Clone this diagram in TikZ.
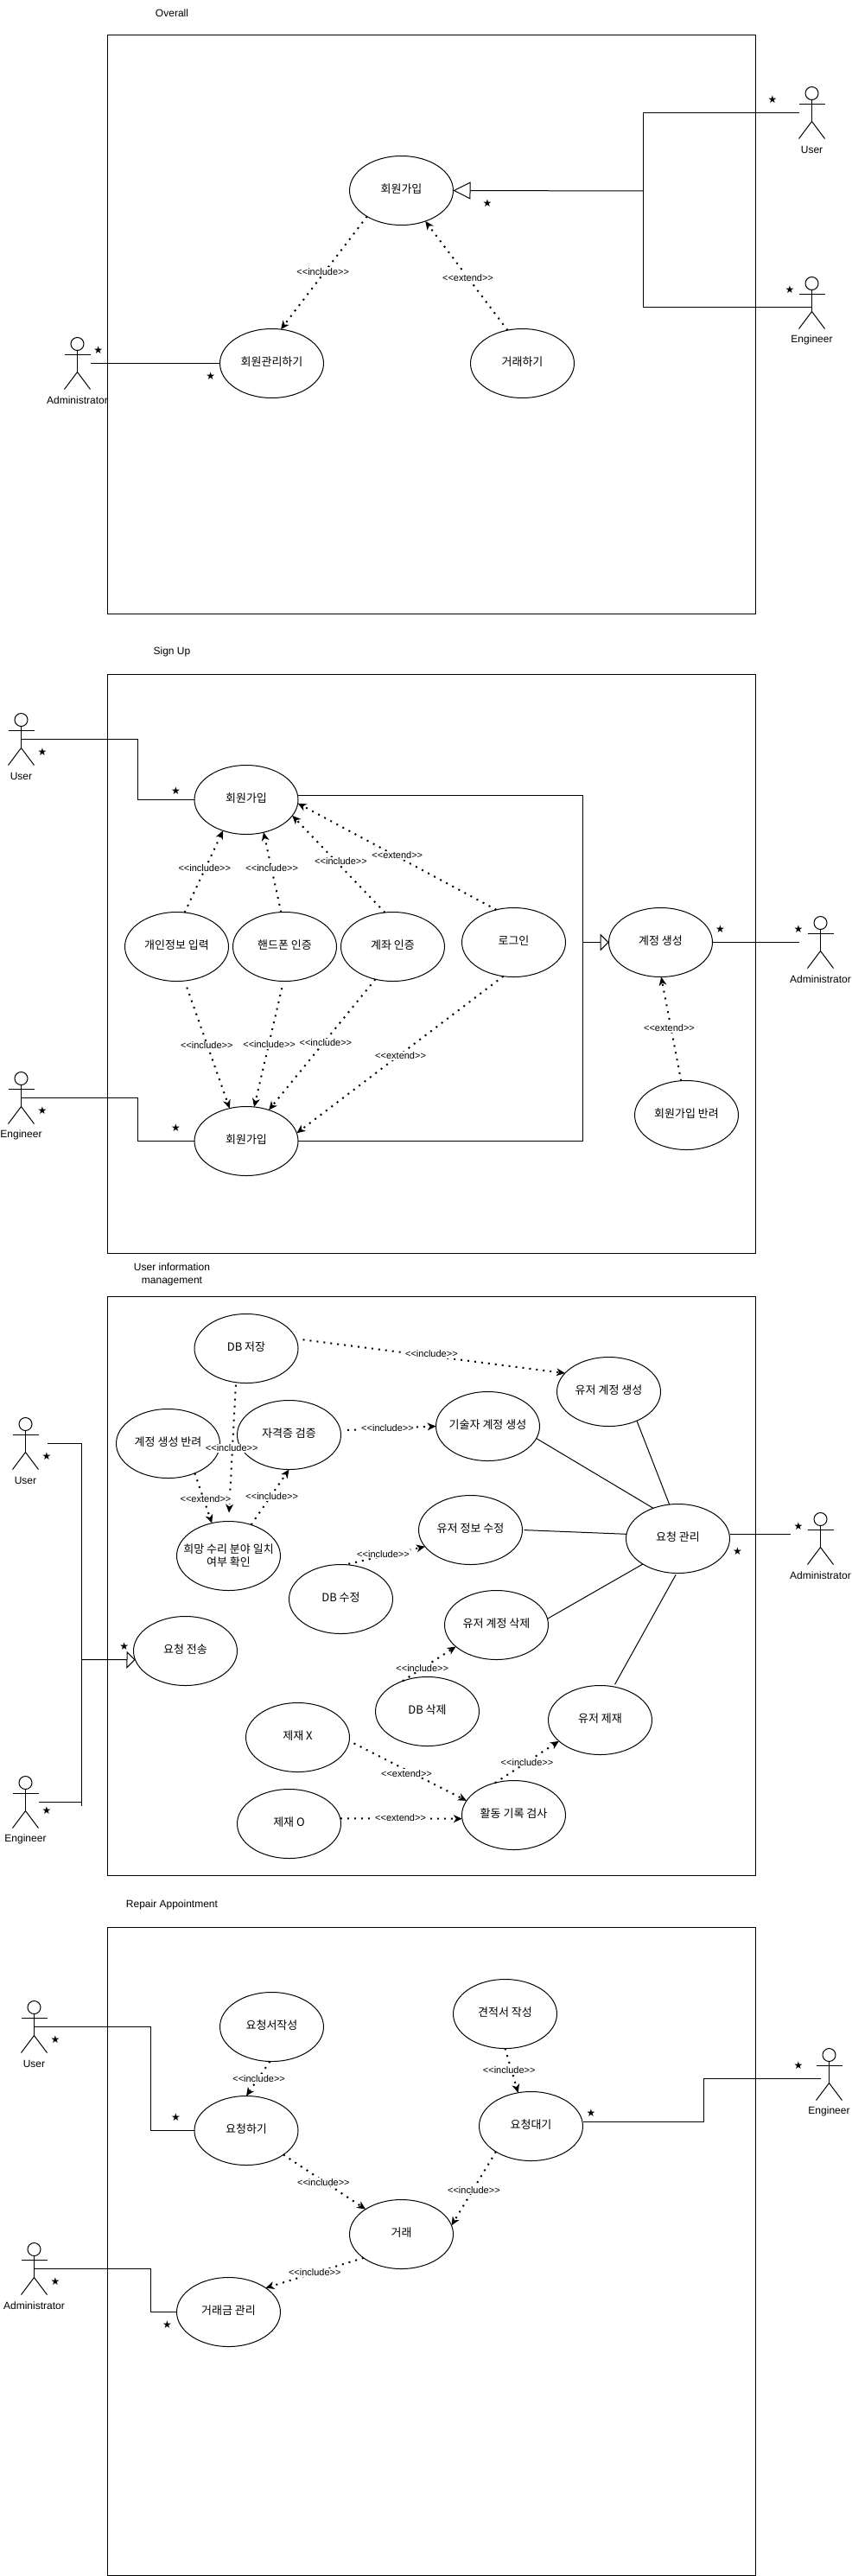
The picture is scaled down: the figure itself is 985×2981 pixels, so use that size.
\documentclass[tikz,border=0pt]{standalone}
\usepackage{fontspec}
\setmainfont[Ligatures=NoCommon]{Liberation Sans}
\newfontfamily\kr{Noto Sans CJK KR}
\newfontfamily\dv{DejaVu Sans}
\usetikzlibrary{shapes.geometric,arrows.meta}
\newcommand\incl{<{}<include>{}>}
\newcommand\extd{<{}<extend>{}>}
\tikzset{
  frame/.style={draw=black,line width=1pt,fill=none},
  usecase/.style={ellipse,draw=black,fill=white,line width=1pt,minimum width=120pt,minimum height=80pt,inner sep=-15pt,outer sep=0pt,text height=10pt,text depth=4pt,align=center,font=\kr\fontsize{13}{15}\selectfont},
  usecasetwo/.style={usecase,text height=,text depth=},
  link/.style={draw=black,line width=1pt},
  dep/.style={draw=black,line width=2pt,dash pattern=on 2pt off 6pt,-{Stealth[length=10pt,width=9pt,inset=3pt,line width=0pt]}},
  gen/.style={draw=black,line width=1pt,-{Triangle[open,length=20pt,width=20pt,fill=white]}},
  genshort/.style={draw=black,line width=1pt,-{Triangle[open,length=10pt,width=20pt,fill=white]}},
  lbl/.style={fill=white,inner sep=1pt,font=\fontsize{11}{13}\selectfont},
  title/.style={inner sep=0pt,align=center,font=\fontsize{12}{15}\selectfont},
  starmark/.style={inner sep=0pt,font=\dv\fontsize{12}{12}\selectfont},
  actorbox/.style={minimum width=30pt,minimum height=60pt,inner sep=0pt,outer sep=0pt},
  actorhead/.style={circle,draw=black,line width=1pt,minimum size=15pt,inner sep=0pt,outer sep=0pt},
  actorline/.style={draw=black,line width=1pt},
  actorlabel/.style={inner sep=0pt,font=\fontsize{12}{14}\selectfont},
}
\newcommand\actor[4]{%
  \node[actorbox] (#1) at (#2+15,#3+30) {};
  \node[actorhead] (#1-head) at (#2+15,#3+7.5) {};
  \draw[actorline] (#2+15,#3+15) -- (#2+15,#3+40);
  \draw[actorline] (#2,#3+20) -- (#2+30,#3+20);
  \draw[actorline] (#2,#3+60) -- (#2+15,#3+40) -- (#2+30,#3+60);
  \node[actorlabel] (#1-label) at (#2+15,#3+73) {#4};
}
\newcommand\stm[3]{\node[starmark] (#1) at (#2,#3) {★};}
\begin{document}
\begin{tikzpicture}[x=1pt,y=-1pt]
\useasboundingbox (0,0) rectangle (985,2981);
\fill[white] (0,0) rectangle (985,2981);

% ---------- Overall
\node[title] (t1) at (199,15) {Overall};
\draw[frame] (124.5,40.5) rectangle (874.5,710.5);
\node[usecase] (a1) at (464.5,220.5) {회원가입};
\node[usecase] (a2) at (314.5,420.5) {회원관리하기};
\node[usecase] (a3) at (604.5,420.5) {거래하기};
\actor{au}{924.5}{100.5}{User}
\actor{ae}{924.5}{320.5}{Engineer}
\actor{aa}{74.5}{390.5}{Administrator}
\coordinate (aj) at (744.5,221);
\coordinate (aec) at (939.5,355.5);
\draw[link] (aa.east) -- (a2.west);
\draw[link] (au.west) -| (aj);
\draw[link] (aec) -| (aj);
\draw[gen] (aj) -- (a1.east);
\draw[dep] (a1.217) -- (a2.75);
\draw[dep] (a3.114) -- (a1.-52.5);
\node[lbl] (al1) at (373.7,314.2) {\incl};
\node[lbl] (al2) at (541.5,321.2) {\extd};
\stm{as1}{894}{115.5}
\stm{as2}{914}{335}
\stm{as3}{564}{235.5}
\stm{as4}{113.7}{405.5}
\stm{as5}{243.7}{435.3}

% ---------- Sign Up
\node[title] (t2) at (199,754.5) {Sign Up};
\draw[frame] (124.5,780.5) rectangle (874.5,1450.5);
\node[usecase] (b1) at (285,925.5) {회원가입};
\node[usecase] (b2) at (285,1320.5) {회원가입};
\node[usecase] (b3) at (204.5,1095.5) {개인정보 입력};
\node[usecase] (b4) at (329.5,1095.5) {핸드폰 인증};
\node[usecase] (b5) at (454.5,1095.5) {계좌 인증};
\node[usecase] (b6) at (594.5,1090.5) {로그인};
\node[usecase] (b7) at (764.5,1090.5) {계정 생성};
\node[usecase] (b8) at (794.5,1290.5) {회원가입 반려};
\actor{bu}{9.5}{825.5}{User}
\actor{be}{9.5}{1240.5}{Engineer}
\actor{ba}{934.5}{1060.5}{Administrator}
\coordinate (buj) at (159.5,925.5);
\coordinate (bej) at (159.5,1320.5);
\coordinate (bt) at (674.5,920.5);
\coordinate (bb) at (674.5,1320.5);
\coordinate (bm) at (674.5,1090.5);
\coordinate (bac) at (924.5,1090.5);
\draw[link] (bu.center) -| (buj) -- (b1.west);
\draw[link] (be.center) -| (bej) -- (b2.west);
\draw[link] (b1.east |- bt) -- (bt) -- (bb) -- (b2.east);
\draw[genshort] (bm) -- +(20,0) -- (b7.west);
\draw[link] (b7.east) -- (bac);
\draw[dep] (b3.77) -- (b1.233.5);
\draw[dep] (b4.96) -- (b1.-62.4);
\draw[dep] (b5.103) -- (b1.-19.4);
\draw[dep] (b6.118) -- (b1.-4.9);
\draw[dep,shorten <=8pt] (b3.-77) -- (b2.117);
\draw[dep,shorten <=8pt] (b4.268) -- (b2.77.4);
\draw[dep] (b5.242.5) -- (b2.54);
\draw[dep] (b6.253.6) -- (b2.9.5);
\draw[dep] (b8.99.3) -- (b7.271);
\node[lbl] (bl1) at (236.8,1005) {\incl};
\node[lbl] (bl2) at (314.7,1005) {\incl};
\node[lbl] (bl3) at (394.5,997) {\incl};
\node[lbl] (bl4) at (459.8,990) {\extd};
\node[lbl] (bl5) at (239.3,1210) {\incl};
\node[lbl] (bl6) at (311.6,1209) {\incl};
\node[lbl] (bl7) at (376.9,1207) {\incl};
\node[lbl] (bl8) at (463.6,1222) {\extd};
\node[lbl] (bl9) at (774.5,1190) {\extd};
\stm{bs1}{49}{870.2}
\stm{bs2}{203.5}{915.5}
\stm{bs3}{49}{1285.4}
\stm{bs4}{203.5}{1305.3}
\stm{bs5}{833.5}{1075.4}
\stm{bs6}{924}{1075.4}

% ---------- User information management
\node[title] (t3) at (199,1475) {User information\\management};
\draw[frame] (124.5,1500.5) rectangle (874.5,2170.5);
\node[usecase] (c1) at (285,1560.5) {DB 저장};
\node[usecase] (c2) at (704.5,1610.5) {유저 계정 생성};
\node[usecase] (c3) at (564.5,1650.5) {기술자 계정 생성};
\node[usecase] (c4) at (334.5,1660.5) {자격증 검증};
\node[usecase] (c5) at (194.5,1670.5) {계정 생성 반려};
\node[usecasetwo] (c6) at (264.5,1800.5) {희망 수리 분야 일치\\여부 확인};
\node[usecase] (c7) at (544.5,1770.5) {유저 정보 수정};
\node[usecase] (c8) at (784.5,1780.5) {요청 관리};
\node[usecase] (c9) at (394.5,1850.5) {DB 수정};
\node[usecase] (c10) at (574.5,1880.5) {유저 계정 삭제};
\node[usecase] (c11) at (494.5,1980.5) {DB 삭제};
\node[usecase] (c12) at (694.5,1990.5) {유저 제재};
\node[usecase] (c13) at (344.5,2010.5) {제재 X};
\node[usecase] (c14) at (334.5,2110.5) {제재 O};
\node[usecase] (c15) at (594.5,2100.5) {활동 기록 검사};
\node[usecase] (c16) at (214.5,1910.5) {요청 전송};
\actor{cu}{14.5}{1640.5}{User}
\actor{ce}{14.5}{2055.5}{Engineer}
\actor{ca}{934.5}{1750.5}{Administrator}
\coordinate (cuc) at (54.5,1670.5);
\coordinate (cjb) at (94.5,2089.5);
\coordinate (cj) at (94.5,1920.5);
\coordinate (cac) at (915,1775.5);
\draw[link] (cuc) -| (cjb);
\draw[link] (ce.east) -- (ce.east -| cjb);
\draw[genshort] (cj) -- (c16.190);
\draw[link] (c2.-46.7) -- (c8.104);
\draw[link] (c3.-14) -- (c8.129);
\draw[link,shorten <=2pt] (c7.0) -- (c8.175);
\draw[link] (c10.7) -- (c8.216.7);
\draw[link,shorten <=3pt,shorten >=2pt] (c12.68.5) -- (c8.268);
\draw[link] (c8.east |- cac) -- (cac);
\draw[dep,shorten <=8pt] (c1.11.9) -- (c2.157);
\draw[dep,shorten <=3pt,shorten >=10pt] (c1.253.9) -- (c6.90);
\draw[dep] (c5.-48) -- (c6.117);
\draw[dep] (c6.54) -- (c4.-90);
\draw[dep,shorten <=8pt] (c4.5) -- (c3.180);
\draw[dep,shorten <=4pt] (c9.83.5) -- (c7.200);
\draw[dep] (c11.129) -- (c10.208);
\draw[dep] (c15.120.7) -- (c12.207);
\draw[dep,shorten <=6pt] (c13.-4.7) -- (c15.163);
\draw[dep] (c14.6) -- (c15.184);
\node[lbl] (cl1) at (499.4,1567) {\incl};
\node[lbl] (cl2) at (268.2,1676) {\incl};
\node[lbl] (cl3) at (238,1735) {\extd};
\node[lbl] (cl4) at (314.7,1732) {\incl};
\node[lbl] (cl5) at (448.5,1653) {\incl};
\node[lbl] (cl6) at (443.5,1798.3) {\incl};
\node[lbl] (cl7) at (488.7,1930.4) {\incl};
\node[lbl] (cl8) at (610,2039.4) {\incl};
\node[lbl] (cl9) at (470.5,2052.2) {\extd};
\node[lbl] (cl10) at (463.6,2104) {\extd};
\stm{cs1}{54}{1685}
\stm{cs2}{54}{2095}
\stm{cs3}{143.8}{1905.4}
\stm{cs4}{924}{1765.7}
\stm{cs5}{853.6}{1795.4}

% ---------- Repair Appointment
\node[title] (t4) at (199,2204.5) {Repair Appointment};
\draw[frame] (124.5,2230.5) rectangle (874.5,2980.3);
\node[usecase] (d1) at (314.5,2345.5) {요청서작성};
\node[usecase] (d2) at (584.5,2330.5) {견적서 작성};
\node[usecase] (d3) at (285,2465.5) {요청하기};
\node[usecase] (d4) at (614.5,2460.5) {요청대기};
\node[usecase] (d5) at (464.5,2585.5) {거래};
\node[usecase] (d6) at (264.5,2675.5) {거래금 관리};
\actor{du}{24.5}{2315.5}{User}
\actor{da}{24.5}{2595.5}{Administrator}
\actor{de}{944.5}{2370.5}{Engineer}
\coordinate (duj) at (174.5,2465.5);
\coordinate (daj) at (174.5,2675.5);
\coordinate (dec) at (949.5,2405.5);
\coordinate (dej) at (814.5,2455.5);
\draw[link] (du.center) -| (duj) -- (d3.west);
\draw[link] (da.center) -| (daj) -- (d6.west);
\draw[link] (dec) -| (dej) -- (d4.east |- dej);
\draw[dep] (d1.-93) -- (d3.90);
\draw[dep] (d2.-90) -- (d4.111.5);
\draw[dep] (d3.-33.6) -- (d5.145.5);
\draw[dep] (d4.216) -- (d5.10.5);
\draw[dep] (d5.212) -- (d6.33.4);
\node[lbl] (dl1) at (299.6,2405.2) {\incl};
\node[lbl] (dl2) at (589.2,2395.5) {\incl};
\node[lbl] (dl3) at (374.4,2525.2) {\incl};
\node[lbl] (dl4) at (548.4,2534.4) {\incl};
\node[lbl] (dl5) at (364.3,2630) {\incl};
\stm{ds1}{64}{2360.3}
\stm{ds2}{203.5}{2450.2}
\stm{ds3}{64}{2640.2}
\stm{ds4}{193.5}{2690.2}
\stm{ds5}{684}{2445.6}
\stm{ds6}{924}{2390.4}
\end{tikzpicture}
\end{document}
